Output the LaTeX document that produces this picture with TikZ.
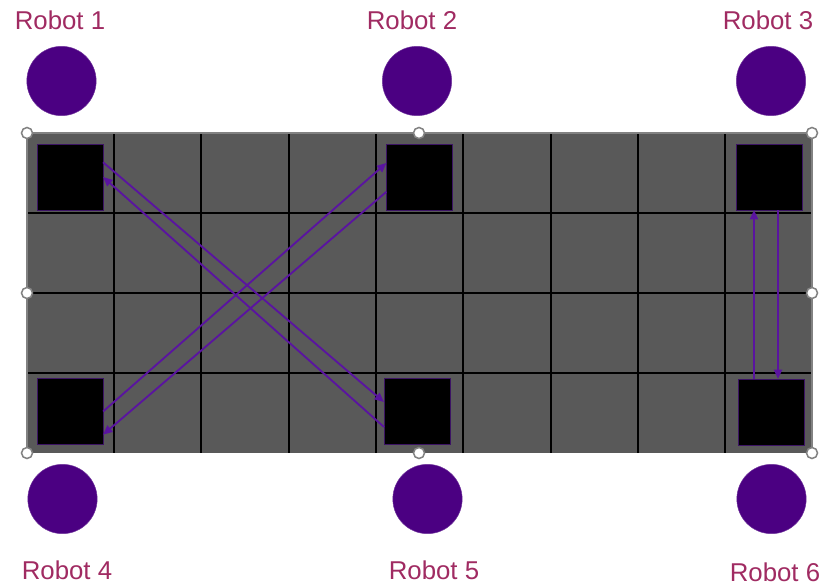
\documentclass[tikz,border=0pt]{standalone}
\usepackage{fontspec}
\setmainfont{Liberation Sans}
\usetikzlibrary{arrows.meta, positioning, calc}
\definecolor{robotink}{HTML}{4B0082}
\definecolor{arrowink}{HTML}{5A14A0}
\definecolor{labelink}{HTML}{A02B62}
\definecolor{floorgray}{HTML}{595959}
\definecolor{rimgray}{HTML}{828282}
\definecolor{padedge}{HTML}{3C1464}
\tikzset{
  pad/.style={rectangle, draw=padedge, fill=black, thin,
              minimum size=1.97cm, inner sep=0pt},
  bot/.style={circle, draw=robotink!80!white, fill=robotink, thin,
              minimum size=2.08cm, inner sep=0pt},
  lbl/.style={font=\fontsize{22}{26}\selectfont, text=labelink, inner sep=0pt},
  arr/.style={-{Triangle[length=8pt, width=7pt]}, line width=1.6pt, arrowink},
  gridline/.style={black, line width=1.1pt},
  hnd/.style={draw=rimgray, fill=white, line width=1.3pt},
}

\begin{document}
\begin{tikzpicture}[x=0.03cm, y=-0.03cm]
  \useasboundingbox (0,0) rectangle (819,586);

  % floor grid
  \fill[floorgray] (27,133) rectangle (812,453);
  \foreach \gx in {114,201,289,376,463,551,638,725}
    \draw[gridline] (\gx,133) -- (\gx,453);
  \foreach \gy in {213,293,373}
    \draw[gridline] (27,\gy) -- (812,\gy);
  \draw[rimgray, line width=1.5pt] (27,453) -- (27,133) -- (812,133) -- (812,453);

  % pads
  \node[pad] (p1) at (70,177) {};
  \node[pad] (p2) at (419.5,177) {};
  \node[pad] (p3) at (769.5,177) {};
  \node[pad] (p4) at (70,411.5) {};
  \node[pad] (p5) at (417,411.5) {};
  \node[pad] (p6) at (771.5,412) {};

  % robots
  \node[bot] (r1) at (61.5,81) {};
  \node[bot] (r2) at (417,81) {};
  \node[bot] (r3) at (771,81) {};
  \node[bot] (r4) at (62.5,499) {};
  \node[bot] (r5) at (427.5,499) {};
  \node[bot] (r6) at (771.5,499) {};

  \node[lbl] (l1) at (60,20) {Robot 1};
  \node[lbl] (l2) at (412,20) {Robot 2};
  \node[lbl] (l3) at (768,20) {Robot 3};
  \node[lbl] (l4) at (67,570) {Robot 4};
  \node[lbl] (l5) at (434,570) {Robot 5};
  \node[lbl] (l6) at (775,572) {Robot 6};

  % selection handles
  \foreach \hx/\hy in {27/133, 419/133, 812/133, 27/293, 812/293, 27/453, 419/453, 812/453}
    \path[hnd] (\hx,\hy) circle (5.5);

  % moves
  \draw[arr] (p1.24) -- (p5.164);
  \draw[arr] (p5.205) -- (p1.east);
  \draw[arr] (p4.east) -- (p2.157);
  \draw[arr] (p2.204) -- (p4.-35);

  \coordinate (e1) at ($(p6.north)+(-17.5,0)$);
  \coordinate (f1) at ($(p3.south)+(8.5,0)$);
  \draw[arr] (e1) -- (e1 |- p3.south);
  \draw[arr] (f1) -- (f1 |- p6.north);
\end{tikzpicture}
\end{document}
